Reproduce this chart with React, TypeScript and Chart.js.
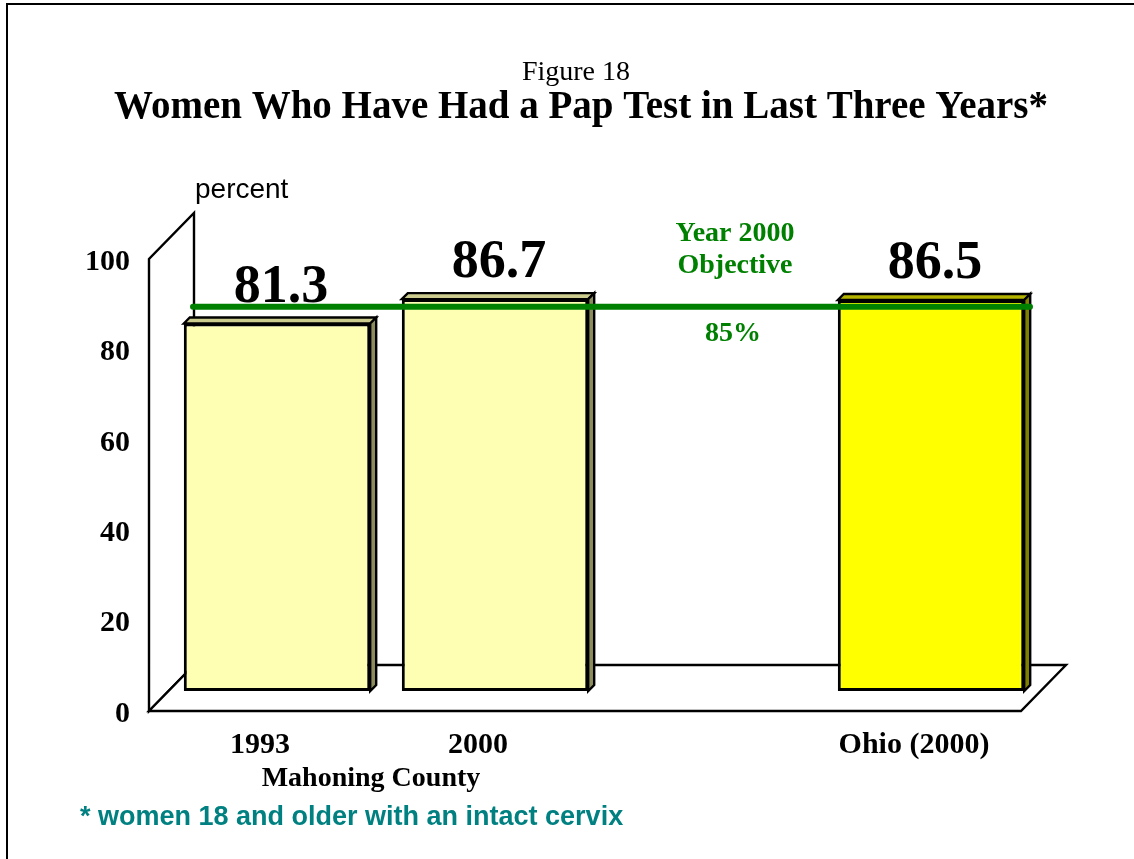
import React, { useEffect, useRef } from "react";
import { Chart, registerables } from "chart.js";

Chart.register(...registerables);

// ---- data ----
const categories = ["1993", "2000", "", "Ohio (2000)"];
const values: (number | null)[] = [81.3, 86.7, null, 86.5];
const valueLabels = ["81.3", "86.7", "", "86.5"];
const yTicks = [0, 20, 40, 60, 80, 100];
const objectiveValue = 85;
const objectiveLines = ["Year 2000", "Objective"];
const objectivePctLabel = "85%";
const groupLabel = "Mahoning County";
const figureLabel = "Figure 18";
const titleText = "Women Who Have Had a Pap Test in Last Three Years*";
const yAxisTitle = "percent";
const footnote = "* women 18 and older with an intact cervix";

// ---- styles ----
const COUNTY_FRONT = "#FFFFB3";
const COUNTY_TOP = "#CCCC8F";
const COUNTY_SIDE = "#8C8C5C";
const OHIO_FRONT = "#FFFF00";
const OHIO_TOP = "#B3B300";
const OHIO_SIDE = "#808000";
const GREEN = "#008000";
const TEAL = "#008080";
const SERIF = "'Liberation Serif', 'Times New Roman', serif";
const SANS = "'Liberation Sans', Arial, sans-serif";
const DEPTH = 6;
const FRONT = { dx: -19, dy: 20 };
const BACK = { dx: 26, dy: -26 };

const isOhio = (i: number) => i === 3;

function poly(ctx: CanvasRenderingContext2D, pts: number[][], fill: string, lw = 2) {
  ctx.beginPath();
  ctx.moveTo(pts[0][0], pts[0][1]);
  for (let i = 1; i < pts.length; i++) ctx.lineTo(pts[i][0], pts[i][1]);
  ctx.closePath();
  ctx.fillStyle = fill;
  ctx.fill();
  ctx.lineWidth = lw;
  ctx.strokeStyle = "#000";
  ctx.lineJoin = "miter";
  ctx.stroke();
}

const decorPlugin = {
  id: "decor",
  beforeDatasetsDraw(chart: any) {
    const { ctx, chartArea } = chart;
    const y = chart.scales.y;
    const { left, right, bottom } = chartArea;
    const top = y.getPixelForValue(100);
    ctx.save();
    // left wall
    poly(ctx, [
      [left + FRONT.dx, bottom + FRONT.dy],
      [left + FRONT.dx, top + FRONT.dy],
      [left + BACK.dx, top + BACK.dy],
      [left + BACK.dx, bottom + BACK.dy],
    ], "#FFFFFF", 2.4);
    // floor
    poly(ctx, [
      [left + FRONT.dx, bottom + FRONT.dy],
      [right + FRONT.dx, bottom + FRONT.dy],
      [right + BACK.dx, bottom + BACK.dy],
      [left + BACK.dx, bottom + BACK.dy],
    ], "#FFFFFF", 2.4);
    ctx.restore();
  },
  afterDatasetsDraw(chart: any) {
    const { ctx, chartArea } = chart;
    const meta = chart.getDatasetMeta(0);
    const ys = chart.scales.y;
    const xs = chart.scales.x;
    ctx.save();
    meta.data.forEach((bar: any, i: number) => {
      if (values[i] == null) return;
      const p = bar.getProps(["x", "y", "base", "width"], true);
      const l = p.x - p.width / 2;
      const r = p.x + p.width / 2;
      const t = p.y;
      const b = p.base;
      poly(ctx, [[l, t], [l + DEPTH, t - DEPTH], [r + DEPTH, t - DEPTH], [r, t]], isOhio(i) ? OHIO_TOP : COUNTY_TOP, 2.4);
      poly(ctx, [[r, t], [r + DEPTH, t - DEPTH], [r + DEPTH, b - DEPTH], [r, b]], isOhio(i) ? OHIO_SIDE : COUNTY_SIDE, 2.4);
    });
    // value labels
    ctx.fillStyle = "#000";
    ctx.font = `bold 54px ${SERIF}`;
    ctx.textAlign = "center";
    ctx.textBaseline = "alphabetic";
    meta.data.forEach((bar: any, i: number) => {
      if (values[i] == null) return;
      ctx.fillText(valueLabels[i], bar.x + 4, bar.y - 22);
    });
    // objective line
    const ly = ys.getPixelForValue(objectiveValue);
    ctx.strokeStyle = GREEN;
    ctx.lineWidth = 6;
    ctx.lineCap = "round";
    ctx.beginPath();
    ctx.moveTo(chartArea.left + 25, ly);
    ctx.lineTo(chartArea.right - 10, ly);
    ctx.stroke();
    // objective text
    const ox = xs.getPixelForValue(2) + 22;
    const y100 = ys.getPixelForValue(100);
    ctx.fillStyle = GREEN;
    ctx.font = `bold 28px ${SERIF}`;
    ctx.textBaseline = "middle";
    ctx.fillText(objectiveLines[0], ox, y100 - 5);
    ctx.fillText(objectiveLines[1], ox, y100 + 27);
    ctx.fillText(objectivePctLabel, ox - 2, y100 + 95);
    ctx.restore();
  },
  afterDraw(chart: any) {
    const { ctx } = chart;
    const xs = chart.scales.x;
    ctx.save();
    // frame
    ctx.strokeStyle = "#000";
    ctx.lineWidth = 2;
    ctx.beginPath();
    ctx.moveTo(7, 860);
    ctx.lineTo(7, 4);
    ctx.lineTo(1134, 4);
    ctx.stroke();
    ctx.fillStyle = "#000";
    ctx.textAlign = "center";
    ctx.textBaseline = "middle";
    ctx.font = `28px ${SERIF}`;
    ctx.fillText(figureLabel, 576, 73);
    ctx.font = `bold 39px ${SERIF}`;
    ctx.fillText(titleText, 581, 108);
    ctx.textAlign = "left";
    ctx.font = `28px ${SANS}`;
    ctx.fillText(yAxisTitle, 195, 190);
    // group label
    const gx = (xs.getPixelForValue(0) + xs.getPixelForValue(1)) / 2 - 15;
    ctx.textAlign = "center";
    ctx.font = `bold 28px ${SERIF}`;
    ctx.fillText(groupLabel, gx, 779);
    // footnote
    ctx.textAlign = "left";
    ctx.fillStyle = TEAL;
    ctx.font = `bold 27px ${SANS}`;
    ctx.fillText(footnote, 80, 818);
    ctx.restore();
  },
};

export default function App() {
  const ref = useRef<HTMLCanvasElement | null>(null);
  useEffect(() => {
    document.body.style.margin = "0";
    const canvas = ref.current!;
    const chart = new Chart(canvas, {
      type: "bar",
      data: {
        labels: categories,
        datasets: [
          {
            data: values as any,
            backgroundColor: values.map((_, i) => (isOhio(i) ? OHIO_FRONT : COUNTY_FRONT)),
            borderColor: "#000",
            borderWidth: 3,
            borderSkipped: false,
            barPercentage: 0.855,
            categoryPercentage: 1,
          },
        ],
      },
      options: {
        responsive: false,
        animation: false,
        events: [],
        layout: { padding: { left: 0, right: 94, top: 239, bottom: 0 } },
        plugins: { legend: { display: false }, tooltip: { enabled: false }, title: { display: false } },
        scales: {
          x: {
            grid: { display: false, drawTicks: false },
            border: { display: false },
            ticks: {
              color: "#000",
              font: { family: SERIF, size: 30, weight: "bold" },
              labelOffset: -17,
              padding: 36,
              maxRotation: 0,
              autoSkip: false,
            },
            afterFit: (s: any) => { s.height = 168; },
          },
          y: {
            min: 0,
            max: 100,
            grid: { display: false, drawTicks: false },
            border: { display: false },
            afterBuildTicks: (s: any) => { s.ticks = yTicks.map((v) => ({ value: v })); },
            ticks: {
              color: "#000",
              font: { family: SERIF, size: 30, weight: "bold" },
              labelOffset: 23,
              padding: 38,
            },
            afterFit: (s: any) => { s.width = 168; },
          },
        },
      },
      plugins: [decorPlugin],
    });
    return () => chart.destroy();
  }, []);
  return (
    <div style={{ position: "absolute", left: 0, top: 0, width: 1134, height: 859, background: "#fff" }}>
      <canvas ref={ref} width={1134} height={859} />
    </div>
  );
}
